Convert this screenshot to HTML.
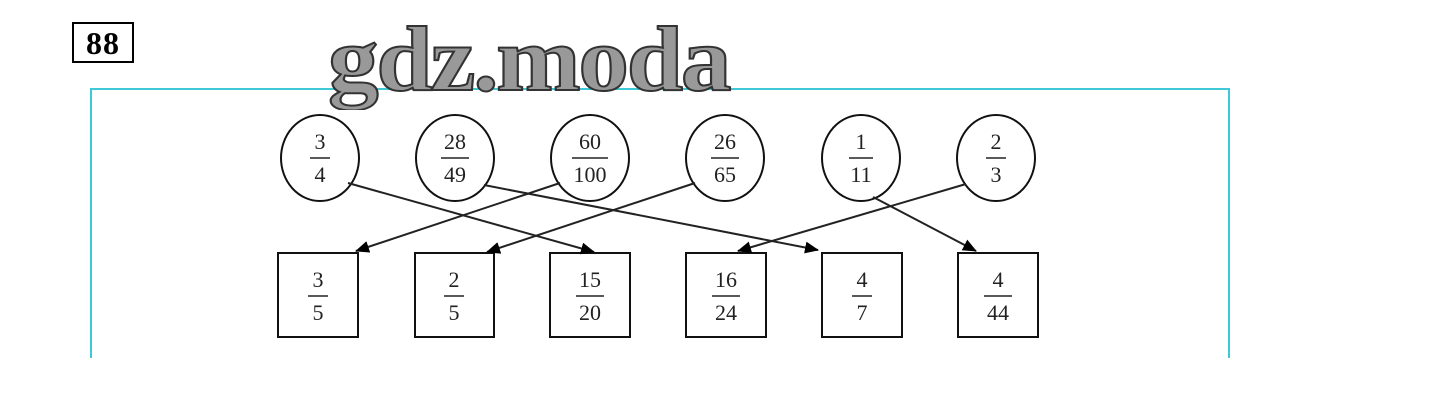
<!DOCTYPE html>
<html><head><style>
body{margin:0;width:1440px;height:407px;background:#fff;overflow:hidden;position:relative;font-family:"Liberation Serif",serif}
.n88{position:absolute;left:72px;top:22px;width:58px;height:37px;border:2px solid #000;font:bold 32px "Liberation Serif",serif;text-align:center;line-height:38px;letter-spacing:1px}
.wm{position:absolute;left:328px;top:6px;font:bold 92px "Liberation Serif",serif;color:#999;-webkit-text-stroke:2px #333;letter-spacing:-2px;transform:scaleX(1.1);transform-origin:0 0}
</style></head><body>
<div class="n88">88</div>
<svg width="1440" height="407" style="position:absolute;left:0;top:0">
<defs><marker id="a" markerWidth="14" markerHeight="12" refX="13" refY="6" orient="auto" markerUnits="userSpaceOnUse" viewBox="0 0 14 12"><path d="M0,0L14,6L0,12z" fill="#000"/></marker></defs>
<g stroke="#3fc8d6" stroke-width="2" fill="none">
<path d="M91,358V89H1229V358"/>
</g>
<g fill="none" stroke="#111" stroke-width="2">
<ellipse cx="320" cy="158" rx="39" ry="43"/>
<ellipse cx="455" cy="158" rx="39" ry="43"/>
<ellipse cx="590" cy="158" rx="39" ry="43"/>
<ellipse cx="725" cy="158" rx="39" ry="43"/>
<ellipse cx="861" cy="158" rx="39" ry="43"/>
<ellipse cx="996" cy="158" rx="39" ry="43"/>
<rect x="278" y="253" width="80" height="84"/>
<rect x="415" y="253" width="79" height="84"/>
<rect x="550" y="253" width="80" height="84"/>
<rect x="686" y="253" width="80" height="84"/>
<rect x="822" y="253" width="80" height="84"/>
<rect x="958" y="253" width="80" height="84"/>
</g>
<g stroke="#222" stroke-width="2" marker-end="url(#a)">
<line x1="348" y1="183" x2="594" y2="252"/>
<line x1="484" y1="185" x2="818" y2="250"/>
<line x1="560" y1="183" x2="356" y2="251"/>
<line x1="695" y1="183" x2="487" y2="252"/>
<line x1="873" y1="197" x2="976" y2="251"/>
<line x1="966" y1="184" x2="738" y2="251"/>
</g>
<g font-size="22" text-anchor="middle" fill="#222" stroke-width="1.5">
<text x="320" y="149">3</text><text x="320" y="182">4</text><line x1="310" x2="330" y1="158" y2="158" stroke="#222"/>
<text x="455" y="149">28</text><text x="455" y="182">49</text><line x1="441" x2="469" y1="158" y2="158" stroke="#222"/>
<text x="590" y="149">60</text><text x="590" y="182">100</text><line x1="572" x2="608" y1="158" y2="158" stroke="#222"/>
<text x="725" y="149">26</text><text x="725" y="182">65</text><line x1="711" x2="739" y1="158" y2="158" stroke="#222"/>
<text x="861" y="149">1</text><text x="861" y="182">11</text><line x1="849" x2="873" y1="158" y2="158" stroke="#222"/>
<text x="996" y="149">2</text><text x="996" y="182">3</text><line x1="986" x2="1006" y1="158" y2="158" stroke="#222"/>
<text x="318" y="287">3</text><text x="318" y="320">5</text><line x1="308" x2="328" y1="296" y2="296" stroke="#222"/>
<text x="454" y="287">2</text><text x="454" y="320">5</text><line x1="444" x2="464" y1="296" y2="296" stroke="#222"/>
<text x="590" y="287">15</text><text x="590" y="320">20</text><line x1="576" x2="604" y1="296" y2="296" stroke="#222"/>
<text x="726" y="287">16</text><text x="726" y="320">24</text><line x1="712" x2="740" y1="296" y2="296" stroke="#222"/>
<text x="862" y="287">4</text><text x="862" y="320">7</text><line x1="852" x2="872" y1="296" y2="296" stroke="#222"/>
<text x="998" y="287">4</text><text x="998" y="320">44</text><line x1="984" x2="1012" y1="296" y2="296" stroke="#222"/>
</g>
</svg>
<div class="wm">gdz.moda</div>
</body></html>
